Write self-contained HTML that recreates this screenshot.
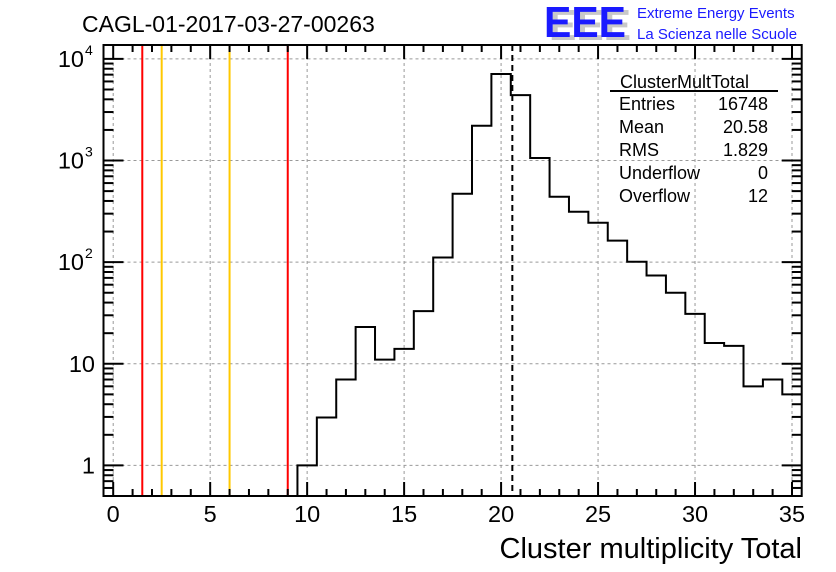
<!DOCTYPE html>
<html><head><meta charset="utf-8"><style>
body{margin:0;background:#fff;}
svg{display:block;font-family:"Liberation Sans",sans-serif;}
</style></head><body>
<svg id="chart" width="836" height="572" viewBox="0 0 836 572">
<text x="82" y="32" font-size="23">CAGL-01-2017-03-27-00263</text>
<g>
<text x="549" y="40" font-size="44" font-weight="bold" fill="#c8c8c8" textLength="82" lengthAdjust="spacingAndGlyphs">EEE</text>
<text x="544" y="37" font-size="44" font-weight="bold" fill="#1a1aff" textLength="82" lengthAdjust="spacingAndGlyphs">EEE</text>
<text x="637" y="18" font-size="15" fill="#1a1aff">Extreme Energy Events</text>
<text x="637" y="39" font-size="15" fill="#1a1aff">La Scienza nelle Scuole</text>
</g>
<g id="grid"></g>
<g id="lines"></g>
<g id="hist"></g>
<g id="axes"></g>
<g font-size="18">
<text x="620" y="88" font-size="18">ClusterMultTotal</text>
<line x1="610" y1="91" x2="778" y2="91" stroke="#000" stroke-width="2"/>
<text x="619" y="110">Entries</text><text x="768" y="110" text-anchor="end">16748</text>
<text x="619" y="133">Mean</text><text x="768" y="133" text-anchor="end">20.58</text>
<text x="619" y="156">RMS</text><text x="768" y="156" text-anchor="end">1.829</text>
<text x="619" y="179">Underflow</text><text x="768" y="179" text-anchor="end">0</text>
<text x="619" y="202">Overflow</text><text x="768" y="202" text-anchor="end">12</text>
</g>
<text x="802" y="558" font-size="29" text-anchor="end">Cluster multiplicity Total</text>
</svg>
<script>
const binCenters=[10,11,12,13,14,15,16,17,18,19,20,21,22,23,24,25,26,27,28,29,30,31,32,33,34,35];
const binCounts=[1,2.96,7,23,11,14,33,111,471,2200,7100,4400,1060,440,313,244,163,101,74,50,31,16,15,6,7,5];
const xTicks=[0,5,10,15,20,25,30,35];
const yDecades=[1,10,100,1000,10000];
const yTickLabels=["1","10","10","10","10"];
const yTickExp=["","","2","3","4"];
const redLines=[1.5,9];
const orangeLines=[2.5,6];
const meanValue=20.58;
const X0=103.5,X1=801.7,Y0=45,Y1=496,xmin=-0.5,xmax=35.5,ymin=0.5,ymax=13700;
const sx=v=>X0+(v-xmin)/(xmax-xmin)*(X1-X0);
const sy=v=>Y1-(Math.log10(v)-Math.log10(ymin))/(Math.log10(ymax)-Math.log10(ymin))*(Y1-Y0);
const NS="http://www.w3.org/2000/svg";
function mk(parent,tag,attrs){const e=document.createElementNS(NS,tag);for(const k in attrs)e.setAttribute(k,attrs[k]);parent.appendChild(e);return e;}
const grid=document.getElementById('grid'),lines=document.getElementById('lines'),hist=document.getElementById('hist'),axes=document.getElementById('axes');
xTicks.forEach(t=>{const l=mk(grid,'line',{x1:sx(t),x2:sx(t),y1:Y0,y2:Y1,stroke:'#999','stroke-dasharray':'3,3'});

});
yDecades.forEach(d=>{const l=mk(grid,'line',{x1:X0,x2:X1,y1:sy(d),y2:sy(d),stroke:'#999','stroke-dasharray':'3,3'});

});
redLines.forEach(v=>{const l=mk(lines,'line',{x1:sx(v),x2:sx(v),y1:Y0,y2:Y1,stroke:'#f00','stroke-width':2});

});
orangeLines.forEach(v=>{const l=mk(lines,'line',{x1:sx(v),x2:sx(v),y1:Y0,y2:Y1,stroke:'#ffc800','stroke-width':2});

});
const ml=mk(lines,'line',{x1:sx(meanValue),x2:sx(meanValue),y1:Y0,y2:Y1,stroke:'#000','stroke-width':2,'stroke-dasharray':'6,4'});


let d='M'+sx(binCenters[0]-0.5)+' '+Y1;
binCenters.forEach((c,i)=>{const y=sy(binCounts[i]);d+=' L'+sx(c-0.5)+' '+y+' L'+sx(c+0.5)+' '+y;});
const p=mk(hist,'path',{d:d,fill:'none',stroke:'#000','stroke-width':2});


mk(axes,'rect',{x:X0,y:Y0,width:X1-X0,height:Y1-Y0,fill:'none',stroke:'#000','stroke-width':2});
for(let v=0;v<=35;v++){const big=v%5==0,h=big?14:7;
mk(axes,'line',{x1:sx(v),x2:sx(v),y1:Y1,y2:Y1-h,stroke:'#000','stroke-width':2});
mk(axes,'line',{x1:sx(v),x2:sx(v),y1:Y0,y2:Y0+h,stroke:'#000','stroke-width':2});}
xTicks.forEach(t=>{const tx=mk(axes,'text',{x:sx(t),y:522,'font-size':23.5,'text-anchor':'middle'});tx.textContent=t;

});
for(let e=-1;e<=4;e++){for(let m=1;m<10;m++){const v=m*Math.pow(10,e);if(v<ymin||v>ymax)continue;const h=m==1?20:10;
mk(axes,'line',{x1:X0,x2:X0+h,y1:sy(v),y2:sy(v),stroke:'#000','stroke-width':2});
mk(axes,'line',{x1:X1,x2:X1-h,y1:sy(v),y2:sy(v),stroke:'#000','stroke-width':2});}}
yDecades.forEach((d,i)=>{const y=sy(d);const tx=mk(axes,'text',{x:yTickExp[i]?84:95,y:y+8,'font-size':23.5,'text-anchor':'end'});tx.textContent=yTickLabels[i];


if(yTickExp[i]){const ex=mk(axes,'text',{x:85,y:y-4,'font-size':14});ex.textContent=yTickExp[i];}});
</script>
</body></html>
